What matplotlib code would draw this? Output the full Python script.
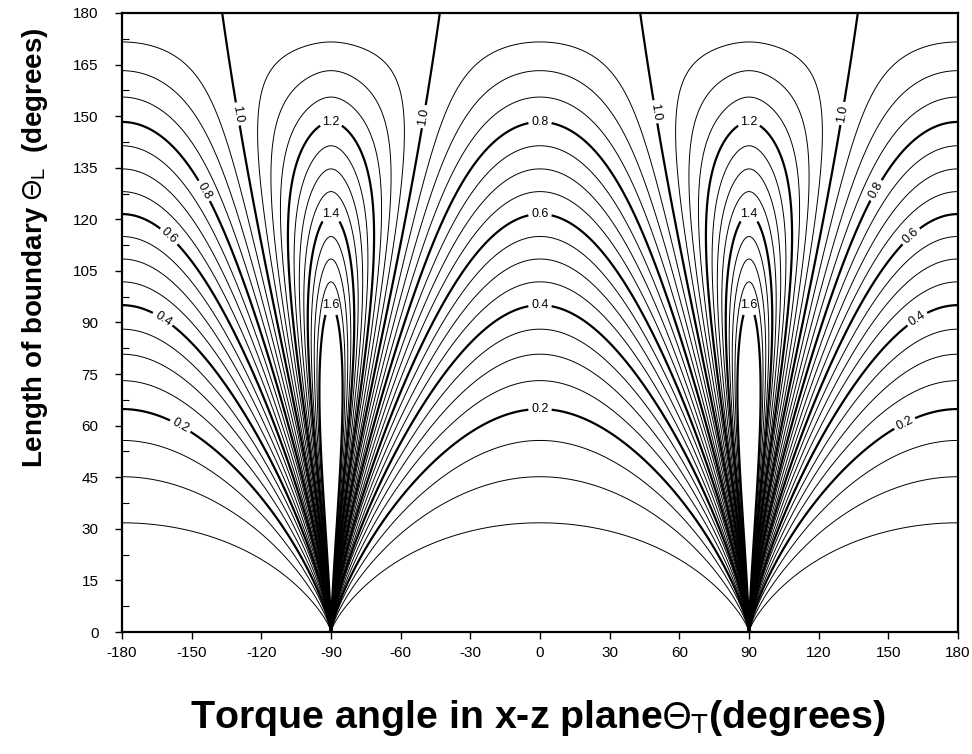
"""
Mapa de contornos: longitud de frontera vs angulo de torque.
"""
import matplotlib
matplotlib.use('Agg')
import matplotlib.pyplot as plt
from matplotlib.ticker import MultipleLocator
import numpy as np

plt.rcParams['font.family'] = ['Liberation Sans', 'DejaVu Sans']
plt.rcParams['mathtext.fontset'] = 'stixsans'

# Cruces de los contornos sobre theta_T = 0
theta_l_eje = [0, 31.7, 45.1, 55.9, 64.7, 73.1, 81.0, 88.0, 94.7, 101.7, 108.9,
               115.1, 121.2, 128.2, 134.9, 141.3, 148.0, 155.6, 163.4, 171.6, 180]
valor_eje = [0.0, 0.05, 0.10, 0.15, 0.20, 0.25, 0.30, 0.35, 0.40, 0.45, 0.50,
             0.55, 0.60, 0.65, 0.70, 0.75, 0.80, 0.85, 0.90, 0.95, 0.995]

# Parametros del abanico cerca de theta_T = +-90 (ajustados a la figura)
escala_s = 1.48
potencia_s = 1.32
exponente_m = 0.6
suavizado = 0.01

niveles_finos = [0.05, 0.10, 0.15, 0.25, 0.30, 0.35, 0.45, 0.50, 0.55, 0.65, 0.70,
                 0.75, 0.85, 0.90, 0.95, 1.05, 1.10, 1.15, 1.25, 1.30, 1.35,
                 1.45, 1.50, 1.55]
niveles_marcados = [0.2, 0.4, 0.6, 0.8, 1.0, 1.2, 1.4, 1.6]

# Posiciones de las etiquetas (theta_T, theta_L)
pos_etiquetas = [(0, 64.7), (0, 94.7), (0, 121.2), (0, 148.0),
                 (-154, 61), (-161.5, 92), (-158.5, 116), (-140, 130), (-127, 151),
                 (156, 62), (161.5, 92), (158.5, 116), (140.5, 130), (128.3, 151),
                 (-51.2, 150), (51.7, 151.5),
                 (-90, 147.7), (-90, 121), (-90, 95.2),
                 (90, 147.7), (90, 121), (90, 95.2)]

xticks = list(range(-180, 181, 30))
yticks = list(range(0, 181, 15))

# Ajuste suave de los valores leidos sobre theta_T = 0
coef_g = np.polyfit(np.array(theta_l_eje) / 180, valor_eje, 6)

# Campo
tt = np.linspace(-180, 180, 2881)
tl = np.linspace(0, 180, 1441)
T, L = np.meshgrid(tt, tl)
g = np.clip(np.polyval(coef_g, L / 180), 0, 0.995)
s = escala_s * (L / 180) ** potencia_s
a = (np.sin(np.radians(T)) * s) ** 2
b = np.cos(np.radians(T)) ** 2
with np.errstate(all='ignore'):
    q = np.nan_to_num(b / (a + b), nan=1.0)
e, m = suavizado, exponente_m
h = ((q + e) ** m - e ** m) / ((1 + e) ** m - e ** m)
campo = g + (2 - 2 * g) * (1 - h)

fig = plt.figure(figsize=(9.72, 7.54), dpi=100)
ax = fig.add_axes([122 / 972, 1 - 632 / 754, 836 / 972, 619 / 754])

ax.contour(tt, tl, campo, levels=niveles_finos, colors='k', linewidths=0.7)
cs = ax.contour(tt, tl, campo, levels=niveles_marcados, colors='k', linewidths=1.6)
ax.clabel(cs, manual=pos_etiquetas, fmt='%.1f', fontsize=9, inline=True,
          inline_spacing=3)

ax.set_xlim(-180, 180)
ax.set_ylim(0, 180)
ax.set_xticks(xticks)
ax.set_yticks(yticks)
ax.set_xticklabels([str(v) for v in xticks])
ax.set_yticklabels([str(v) for v in yticks])
ax.yaxis.set_minor_locator(MultipleLocator(7.5))
ax.tick_params(axis='both', which='major', direction='out', length=5, width=1,
               labelsize=11)
ax.tick_params(axis='x', which='major', pad=5)
ax.tick_params(axis='y', which='major', pad=12)
ax.tick_params(axis='y', which='minor', direction='in', length=5, width=0.8)
for sp in ax.spines.values():
    sp.set_linewidth(1.6)

fig.text(0.553, 0.035, r'Torque angle in x-z plane$\Theta_{\mathrm{T}}$(degrees)',
         fontsize=28.4, fontweight='bold', ha='center', va='baseline')
fig.text(0.036, 0.671, r'Length of boundary $\Theta_{\mathrm{L}}$  (degrees)',
         fontsize=20, fontweight='bold', ha='center', va='center', rotation=90)

plt.savefig('out.png', dpi=100)
